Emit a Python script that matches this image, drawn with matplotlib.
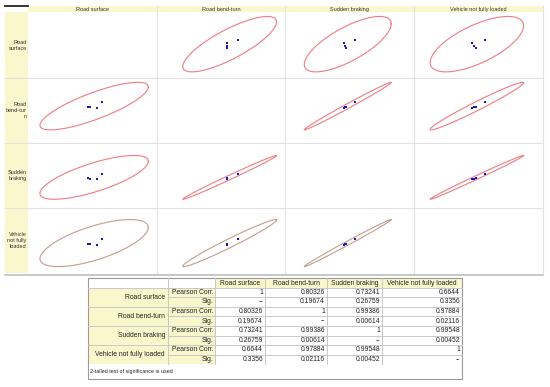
"""
Scatter matrix with confidence ellipses and the Pearson table under it
"""
import numpy as np
import matplotlib.pyplot as plt
from matplotlib.patches import Rectangle

plt.rcParams['font.family'] = ['Liberation Sans', 'DejaVu Sans']

# variable names
variables = ['Road surface', 'Road bend-turn', 'Sudden braking', 'Vehicle not fully loaded']
row_labels = ['Road\nsurface', 'Road\nbend-tur\nn', 'Sudden\nbraking', 'Vehicle\nnot fully\nloaded']

road_surface = [0.576, 0.533, 0.480, 0.462]
road_bend = [0.630, 0.545, 0.547, 0.549]
sudden_braking = [0.545, 0.457, 0.468, 0.475]
vehicle_load = [0.550, 0.452, 0.468, 0.479]
observations = [road_surface, road_bend, sudden_braking, vehicle_load]

# half width of the ellipse for each variable and the y range used in its row
ellipse_half = [0.420, 0.366, 0.337, 0.362]
y_ranges = [(0.0, 1.0), (0.0, 1.0), (0.015, 1.015), (0.027, 1.027)]

# table values
pearson = [[1, 0.80326, 0.73241, 0.6644],
           [0.80326, 1, 0.99386, 0.97884],
           [0.73241, 0.99386, 1, 0.99548],
           [0.6644, 0.97884, 0.99548, 1]]
sig = [[None, 0.19674, 0.26759, 0.3356],
       [0.19674, None, 0.00614, 0.02116],
       [0.26759, 0.00614, None, 0.00452],
       [0.3356, 0.02116, 0.00452, None]]

W, H = 550, 387
fig = plt.figure(figsize=(W / 100, H / 100), dpi=100)

# background axes in pixel coordinates
bg = fig.add_axes([0, 0, 1, 1])
bg.set_xlim(0, W)
bg.set_ylim(H, 0)
bg.axis('off')

yellow = '#fbf7cc'
grid = '#e2e2e2'

""" scatter matrix +++++++++++++++++++++++++++++++++++++++++++"""

col_edges = [28, 157, 285, 414, 543]
row_edges = [12, 78, 143, 208, 273]

bg.add_patch(Rectangle((28, 6), 515, 6, fc=yellow, ec='none'))
bg.add_patch(Rectangle((5, 12), 23, 261, fc=yellow, ec='none'))
bg.plot([5, 28], [5.5, 5.5], color='#222222', lw=1.3)

for x in col_edges[1:]:
    bg.plot([x, x], [6, 273], color=grid, lw=0.8)
for y in row_edges[1:-1]:
    bg.plot([5, 543], [y, y], color=grid, lw=0.8)
bg.plot([5, 543], [274.5, 274.5], color='#bdbdbd', lw=1.2)

for j, name in enumerate(variables):
    bg.text((col_edges[j] + col_edges[j + 1]) / 2, 9.2, name, ha='center', va='center',
            fontsize=4.0, color='#333333')
for i, name in enumerate(row_labels):
    bg.text(26.5, (row_edges[i] + row_edges[i + 1]) / 2, name, ha='right', va='center',
            fontsize=4.0, color='#333333', linespacing=1.25)

t = np.linspace(0, 2 * np.pi, 300)
for i in range(4):
    for j in range(4):
        x0, x1 = col_edges[j], col_edges[j + 1]
        y0, y1 = row_edges[i], row_edges[i + 1]
        ax = fig.add_axes([x0 / W, 1 - y1 / H, (x1 - x0) / W, (y1 - y0) / H])
        ax.set_xlim(0, 1)
        ax.set_ylim(*y_ranges[i])
        ax.axis('off')
        ax.patch.set_alpha(0)
        if i == j:
            continue
        r = pearson[i][j]
        mx = np.mean(observations[j])
        my = np.mean(observations[i])
        ex = mx + ellipse_half[j] * np.cos(t)
        ey = my + ellipse_half[i] * (r * np.cos(t) + np.sqrt(1 - r * r) * np.sin(t))
        color = '#c29c8e' if i == 3 else '#f07b82'
        ax.plot(ex, ey, color=color, lw=0.8)
        ax.plot(observations[j], observations[i], 's', color='#1a1ab8', ms=1.8, mew=0)

""" correlation table +++++++++++++++++++++++++++++++++++++++"""

tcols = [88, 168, 215, 265, 327, 382, 462]
top, head_bot, step = 278, 287.5, 9.6
tline = '#c8c8c8'
body_bot = head_bot + 8 * step
bottom = 379

# fills
for k in range(4):
    bg.add_patch(Rectangle((tcols[2 + k], top), tcols[3 + k] - tcols[2 + k], head_bot - top,
                           fc=yellow, ec='none'))
bg.add_patch(Rectangle((tcols[0], head_bot), tcols[2] - tcols[0], body_bot - head_bot,
                       fc=yellow, ec='none'))

# grid lines
bg.plot([tcols[0], tcols[-1]], [head_bot, head_bot], color=tline, lw=0.7)
for k in range(1, 8):
    y = head_bot + k * step
    start = tcols[0] if k % 2 == 0 else tcols[1]
    bg.plot([start, tcols[-1]], [y, y], color=tline, lw=0.7)
for x in tcols[1:-1]:
    bg.plot([x, x], [top, body_bot], color=tline, lw=0.7)
bg.add_patch(Rectangle((tcols[0], top), tcols[-1] - tcols[0], bottom - top,
                       fc='none', ec='#9a9a9a', lw=0.8))

fs = 4.9
for k, name in enumerate(variables):
    bg.text((tcols[2 + k] + tcols[3 + k]) / 2, (top + head_bot) / 2 + 0.3, name,
            ha='center', va='center', fontsize=fs, color='#222222')

for i, name in enumerate(variables):
    y_p = head_bot + (2 * i + 0.5) * step
    y_s = head_bot + (2 * i + 1.5) * step
    bg.text(tcols[1] - 3, head_bot + (2 * i + 1) * step, name, ha='right', va='center',
            fontsize=fs, color='#222222')
    bg.text(tcols[2] - 1.5, y_p, 'Pearson Corr.', ha='right', va='center', fontsize=fs,
            color='#222222')
    bg.text(tcols[2] - 1.5, y_s, 'Sig.', ha='right', va='center', fontsize=fs, color='#222222')
    for j in range(4):
        xr = tcols[3 + j] - 2
        bg.text(xr, y_p, '{:g}'.format(pearson[i][j]), ha='right', va='center',
                fontsize=fs, color='#222222')
        s = '--' if sig[i][j] is None else '{:g}'.format(sig[i][j])
        bg.text(xr, y_s, s, ha='right', va='center', fontsize=fs, color='#222222')

bg.text(tcols[0] + 2.5, (body_bot + bottom) / 2, '2-tailed test of significance is used',
        ha='left', va='center', fontsize=3.9, color='#222222')

fig.savefig('out.png', dpi=100)
